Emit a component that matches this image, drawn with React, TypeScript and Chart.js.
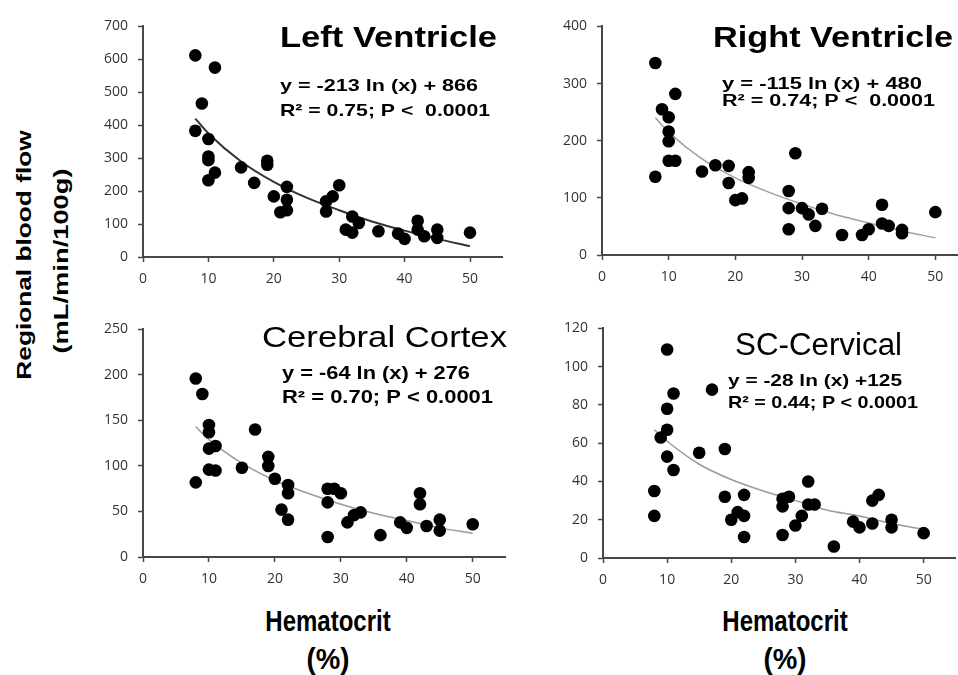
import React, { useEffect, useRef } from "react";
import { Chart, registerables } from "chart.js";

Chart.register(...registerables);

// ---------------- data ----------------
// Left ventricle
const lvHct = [8, 11, 9, 8, 10, 10, 10, 10, 11, 15, 17, 19, 19, 20, 21, 22, 22, 22, 28, 28, 29, 30, 31, 32, 32, 33, 36, 39, 40, 42, 42, 43, 45, 45, 50];
const lvFlow = [612, 575, 466, 383, 358, 305, 294, 233, 256, 272, 225, 292, 280, 184, 136, 213, 174, 142, 169, 138, 184, 218, 83, 74, 123, 103, 78, 71, 55, 110, 83, 63, 83, 58, 74];
// Right ventricle
const rvHct = [8, 8, 9, 10, 10, 10, 10, 11, 11, 15, 17, 19, 19, 20, 21, 22, 22, 28, 28, 28, 29, 30, 31, 32, 33, 36, 39, 40, 42, 42, 43, 45, 45, 50];
const rvFlow = [336, 137, 255, 241, 216, 199, 165, 165, 282, 146, 157, 156, 126, 96, 99, 145, 135, 112, 82, 45, 178, 82, 71, 51, 81, 35, 35, 45, 88, 55, 51, 44, 38, 75];
// Cerebral cortex
const ccHct = [8, 8, 9, 10, 10, 10, 10, 11, 11, 15, 17, 19, 19, 20, 21, 22, 22, 22, 28, 28, 28, 29, 30, 31, 32, 33, 36, 39, 40, 42, 42, 43, 45, 45, 50];
const ccFlow = [196, 82, 179, 145, 137, 119, 96, 122, 95, 98, 140, 110, 100, 86, 52, 79, 70, 41, 75, 60, 22, 75, 70, 38, 46, 49, 24, 38, 32, 70, 58, 34, 41, 29, 36];
// SC-cervical
const scHct = [10, 11, 10, 10, 9, 10, 11, 8, 8, 17, 15, 19, 19, 20, 21, 22, 22, 22, 28, 28, 28, 29, 30, 31, 32, 32, 33, 36, 39, 40, 42, 42, 43, 45, 45, 50];
const scFlow = [109, 86, 78, 67, 63, 53, 46, 35, 22, 88, 55, 57, 32, 20, 24, 33, 22, 11, 31, 27, 12, 32, 17, 22, 40, 28, 28, 6, 19, 16, 18, 30, 33, 20, 16, 13];

// trend curves
const curveHct = [8, 10, 15, 20, 25, 30, 35, 40, 45, 50];
const lvCurve = [420, 375, 290, 228, 180, 142, 108, 80, 55, 33];
const rvCurve = [240, 215, 168, 135, 110, 89, 71, 56, 42, 30];
const ccCurve = [143, 129, 103, 84, 70, 58, 48, 40, 32, 26];
const scCurve = [67, 61, 49, 41, 35, 30, 25, 22, 18, 15];

// tick labels
const xTicks = [0, 10, 20, 30, 40, 50];
const lvYTicks = [0, 100, 200, 300, 400, 500, 600, 700];
const rvYTicks = [0, 100, 200, 300, 400];
const ccYTicks = [0, 50, 100, 150, 200, 250];
const scYTicks = [0, 20, 40, 60, 80, 100, 120];

// texts
const lvTexts = ["Left Ventricle", "y = -213 ln (x) + 866", "R\u00b2 = 0.75; P <  0.0001"];
const rvTexts = ["Right Ventricle", "y = -115 ln (x) + 480", "R\u00b2 = 0.74; P <  0.0001"];
const ccTexts = ["Cerebral Cortex", "y = -64 ln (x) + 276", "R\u00b2 = 0.70; P < 0.0001"];
const scTexts = ["SC-Cervical", "y = -28 ln (x) +125", "R\u00b2 = 0.44; P < 0.0001"];
const yTitle = ["Regional blood flow", "(mL/min/100g)"];
const xTitle = ["Hematocrit", "(%)"];

// ---------------- layout / style ----------------
const Y_W = 60;
const X_H = 40;
const PAD_T = 12;
const PAD_R = 6;
const X_MAX = 55;
const FONT = '"Liberation Sans", Arial, sans-serif';

type TextItem = { text: string; font: string; x: number; y: number; w: number };
type PanelCfg = {
  hct: number[];
  flow: number[];
  curve: number[];
  yTicks: number[];
  area: { l: number; t: number; r: number; b: number };
  curveColor: string;
  curveWidth: number;
  texts: TextItem[];
};

const panels: PanelCfg[] = [
  {
    hct: lvHct, flow: lvFlow, curve: lvCurve, yTicks: lvYTicks,
    area: { l: 143, t: 20, r: 503, b: 257 },
    curveColor: "#333333", curveWidth: 2,
    texts: [
      { text: lvTexts[0], font: `bold 30px ${FONT}`, x: 280, y: 47, w: 217 },
      { text: lvTexts[1], font: `bold 17px ${FONT}`, x: 280, y: 91, w: 198 },
      { text: lvTexts[2], font: `bold 17px ${FONT}`, x: 280, y: 116, w: 210 },
    ],
  },
  {
    hct: rvHct, flow: rvFlow, curve: rvCurve, yTicks: rvYTicks,
    area: { l: 602, t: 20, r: 969, b: 255 },
    curveColor: "#a0a0a0", curveWidth: 1.5,
    texts: [
      { text: rvTexts[0], font: `bold 30px ${FONT}`, x: 713, y: 47, w: 240 },
      { text: rvTexts[1], font: `bold 16px ${FONT}`, x: 722, y: 89, w: 200 },
      { text: rvTexts[2], font: `bold 16px ${FONT}`, x: 722, y: 106, w: 213 },
    ],
  },
  {
    hct: ccHct, flow: ccFlow, curve: ccCurve, yTicks: ccYTicks,
    area: { l: 143, t: 323, r: 506, b: 557 },
    curveColor: "#9a9a9a", curveWidth: 1.5,
    texts: [
      { text: ccTexts[0], font: `30px ${FONT}`, x: 262, y: 347, w: 245 },
      { text: ccTexts[1], font: `bold 18px ${FONT}`, x: 282, y: 379, w: 188 },
      { text: ccTexts[2], font: `bold 18px ${FONT}`, x: 282, y: 403, w: 211 },
    ],
  },
  {
    hct: scHct, flow: scFlow, curve: scCurve, yTicks: scYTicks,
    area: { l: 603, t: 322, r: 956, b: 558 },
    curveColor: "#9a9a9a", curveWidth: 1.5,
    texts: [
      { text: scTexts[0], font: `31px ${FONT}`, x: 735, y: 355, w: 167 },
      { text: scTexts[1], font: `bold 17px ${FONT}`, x: 728, y: 386, w: 174 },
      { text: scTexts[2], font: `bold 17px ${FONT}`, x: 728, y: 408, w: 190 },
    ],
  },
];

const textPlugin = {
  id: "panelText",
  afterDraw(chart: any, _args: any, opts: any) {
    const ctx = chart.ctx as CanvasRenderingContext2D;
    for (const t of (opts.items || []) as TextItem[]) {
      ctx.save();
      ctx.font = t.font;
      ctx.fillStyle = "#000";
      ctx.textBaseline = "alphabetic";
      ctx.textAlign = "left";
      const w = ctx.measureText(t.text).width;
      ctx.translate(t.x - opts.ox, t.y - opts.oy);
      ctx.scale(t.w / w, 1);
      ctx.fillText(t.text, 0, 0);
      ctx.restore();
    }
  },
};

function canvasBox(p: PanelCfg) {
  const { l, t, r, b } = p.area;
  const left = l - Y_W;
  const top = t - PAD_T;
  const width = r - l + Y_W + PAD_R;
  const height = b - t + PAD_T + X_H;
  return { left, top, width, height };
}

function buildConfig(p: PanelCfg): any {
  const box = canvasBox(p);
  const tickFont = { family: '"Open Sans", "DejaVu Sans", sans-serif', size: 14 };
  const axisColor = "#474747";
  return {
    type: "scatter",
    data: {
      datasets: [
        {
          data: p.hct.map((x, i) => ({ x, y: p.flow[i] })),
          backgroundColor: "#000",
          borderColor: "#000",
          borderWidth: 0,
          pointRadius: 6.3,
          pointHoverRadius: 6.3,
          order: 0,
        },
        {
          data: curveHct.map((x, i) => ({ x, y: p.curve[i] })),
          showLine: true,
          borderColor: p.curveColor,
          borderWidth: p.curveWidth,
          pointRadius: 0,
          pointHoverRadius: 0,
          cubicInterpolationMode: "monotone",
          fill: false,
          order: 1,
        },
      ],
    },
    options: {
      responsive: false,
      animation: false,
      devicePixelRatio: 1,
      events: [],
      layout: { padding: { top: PAD_T, right: PAD_R, left: 0, bottom: 0 } },
      plugins: {
        legend: { display: false },
        tooltip: { enabled: false },
        title: { display: false },
        panelText: { items: p.texts, ox: box.left, oy: box.top },
      },
      scales: {
        x: {
          type: "linear",
          min: 0,
          max: X_MAX,
          afterBuildTicks: (s: any) => {
            s.ticks = xTicks.map((v) => ({ value: v }));
          },
          afterFit: (s: any) => {
            s.height = X_H;
          },
          ticks: { font: tickFont, color: "#333", padding: 9, maxRotation: 0 },
          grid: { drawOnChartArea: false, drawTicks: true, tickLength: 5, tickColor: axisColor, tickWidth: 1.5 },
          border: { display: true, color: axisColor, width: 2 },
        },
        y: {
          type: "linear",
          min: 0,
          max: p.yTicks[p.yTicks.length - 1],
          afterBuildTicks: (s: any) => {
            s.ticks = p.yTicks.map((v) => ({ value: v }));
          },
          afterFit: (s: any) => {
            s.width = Y_W;
          },
          ticks: { font: tickFont, color: "#333", padding: 10 },
          grid: { drawOnChartArea: false, drawTicks: true, tickLength: 5, tickColor: axisColor, tickWidth: 1.5 },
          border: { display: true, color: axisColor, width: 2 },
        },
      },
    },
    plugins: [textPlugin],
  };
}

function Panel({ cfg }: { cfg: PanelCfg }) {
  const ref = useRef<HTMLCanvasElement>(null);
  useEffect(() => {
    const chart = new Chart(ref.current as HTMLCanvasElement, buildConfig(cfg));
    return () => chart.destroy();
  }, [cfg]);
  const b = canvasBox(cfg);
  return (
    <canvas
      ref={ref}
      width={b.width}
      height={b.height}
      style={{ position: "absolute", left: b.left, top: b.top, width: b.width, height: b.height }}
    />
  );
}

const labelBase: React.CSSProperties = {
  position: "absolute",
  whiteSpace: "nowrap",
  fontFamily: FONT,
  fontWeight: "bold",
  color: "#000",
  lineHeight: "30px",
};

export default function App() {
  return (
    <div
      style={{
        position: "absolute",
        left: 0,
        top: 0,
        width: 958,
        height: 675,
        overflow: "hidden",
        background: "#fff",
      }}
    >
      {panels.map((p, i) => (
        <Panel key={i} cfg={p} />
      ))}
      {/* shared y-axis title */}
      <div
        style={{
          ...labelBase,
          fontSize: 21,
          lineHeight: "24px",
          left: 24,
          top: 255,
          transform: "translate(-50%, -50%) rotate(-90deg) scale(1.25, 1)",
        }}
      >
        {yTitle[0]}
      </div>
      <div
        style={{
          ...labelBase,
          fontSize: 21,
          lineHeight: "24px",
          left: 61,
          top: 261,
          transform: "translate(-50%, -50%) rotate(-90deg) scale(1.3, 1)",
        }}
      >
        {yTitle[1]}
      </div>
      {/* x-axis titles */}
      {[328, 785].map((cx, i) => (
        <React.Fragment key={i}>
          <div
            style={{
              ...labelBase,
              fontSize: 30,
              left: cx,
              top: 606,
              transform: "translateX(-50%) scale(0.8, 1)",
            }}
          >
            {xTitle[0]}
          </div>
          <div
            style={{
              ...labelBase,
              fontSize: 30,
              left: cx,
              top: 644,
              transform: "translateX(-50%) scale(0.92, 1)",
            }}
          >
            {xTitle[1]}
          </div>
        </React.Fragment>
      ))}
    </div>
  );
}
